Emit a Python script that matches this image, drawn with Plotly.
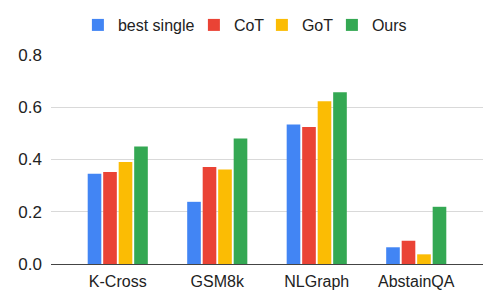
import plotly.graph_objects as go

categories = ["K-Cross", "GSM8k", "NLGraph", "AbstainQA"]
series_names = ["best single", "CoT", "GoT", "Ours"]
best_single = [0.345, 0.238, 0.534, 0.064]
cot = [0.352, 0.371, 0.524, 0.089]
got = [0.390, 0.362, 0.623, 0.037]
ours = [0.450, 0.480, 0.657, 0.219]
tick_vals = [0.0, 0.2, 0.4, 0.6, 0.8]
tick_text = ["0.0", "0.2", "0.4", "0.6", "0.8"]
colors = ["#4285F4", "#EA4335", "#FBBC04", "#34A853"]
legend_widths = [71, 23, 25, 36]

fig = go.Figure()
for name, vals, c, lw in zip(series_names, [best_single, cot, got, ours], colors, legend_widths):
    fig.add_trace(go.Bar(x=categories, y=vals, name=name, marker_color=c,
                         marker_line_width=0, legendwidth=lw))

# page body has an 8px default margin, so the figure is 8px smaller
fig.update_layout(
    width=490, height=300,
    margin=dict(l=43, r=15, t=47, b=44, autoexpand=False),
    paper_bgcolor="white", plot_bgcolor="white",
    font=dict(family="Liberation Sans, Arial, sans-serif", color="#222222", size=16),
    barmode="group", bargap=0.377, bargroupgap=0.12,
    legend=dict(orientation="h", x=0.45, xanchor="center", y=1.1435, yanchor="middle",
                font=dict(size=16), itemwidth=30, traceorder="normal",
                entrywidthmode="pixels"),
    showlegend=True,
)
fig.update_xaxes(showgrid=False, ticks="", showline=False, tickfont=dict(size=16),
                 range=[-0.671, 3.671], ticklabelstandoff=6)
fig.update_yaxes(range=[0, 0.8], tickvals=tick_vals, ticktext=tick_text,
                 showgrid=True, gridcolor="#d9d9d9", gridwidth=1,
                 zeroline=True, zerolinecolor="#444444", zerolinewidth=1,
                 tickfont=dict(size=17), ticks="", ticklabelstandoff=8)

fig.write_html("out.html")
